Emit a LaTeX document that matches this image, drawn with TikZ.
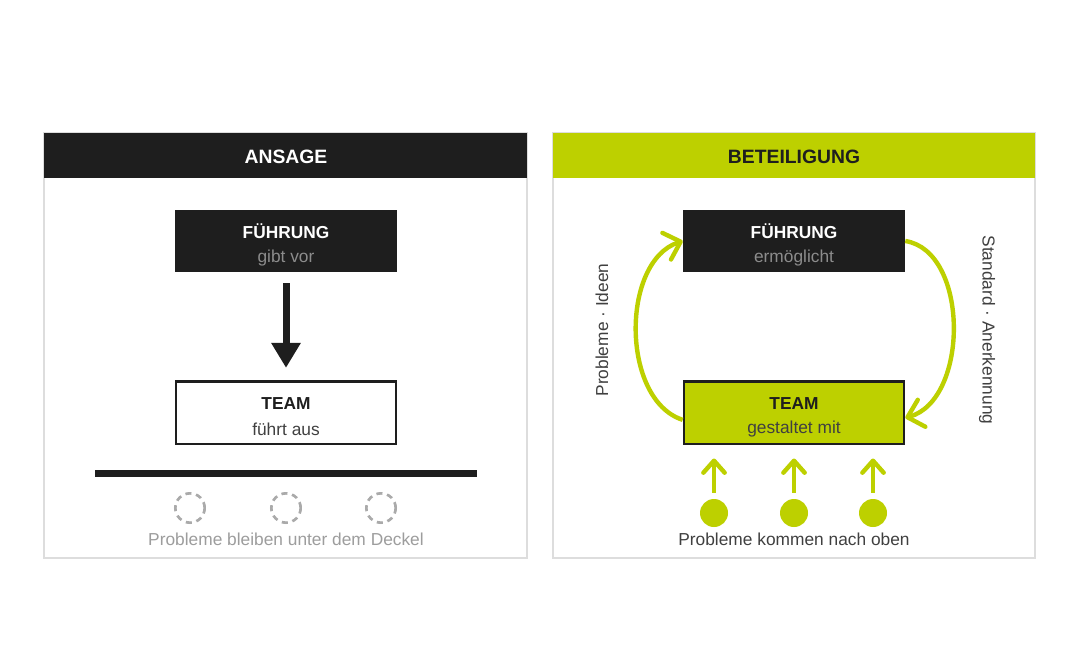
\documentclass[tikz,border=0pt]{standalone}
\usepackage{fontspec}
\setmainfont{Liberation Sans}
\usepackage{tikz}
\usetikzlibrary{positioning}
\usetikzlibrary{calc}
\usetikzlibrary{arrows.meta}

\definecolor{dark}{RGB}{30,30,30}
\definecolor{lime}{RGB}{189,208,0}
\definecolor{softgray}{RGB}{140,140,140}
\definecolor{framegray}{RGB}{221,221,221}
\definecolor{ringgray}{RGB}{170,170,170}

\tikzset{
  panel/.style={draw=framegray, line width=1pt},
  headtext/.style={font=\fontsize{14.5}{17}\selectfont\bfseries},
  darkbox/.style={fill=dark, minimum width=166.5pt, minimum height=46.5pt, inner sep=0pt},
  teambox/.style={draw=dark, line width=2pt, minimum width=165pt, minimum height=47pt, inner sep=0pt},
  boxtitle/.style={font=\fontsize{13}{16}\selectfont\bfseries, inner sep=0pt},
  boxsub/.style={font=\fontsize{13}{16}\selectfont, inner sep=0pt},
  plain/.style={font=\fontsize{13}{16}\selectfont},
  ring/.style={circle, draw=ringgray, line width=2pt, dash pattern={on 4.5pt off 3.6pt}, minimum size=22pt, inner sep=0pt},
  dot/.style={circle, fill=lime, minimum size=21pt, inner sep=0pt},
  bigarrow/.style={draw=dark, line width=5.25pt, -{Triangle[length=18.75pt,width=21pt]}, shorten <=8.25pt, shorten >=9pt},
  loopline/.style={draw=lime, line width=3.3pt, -{Straight Barb[length=11pt,width=21pt,round]}},
  uparrow/.style={draw=lime, line width=3.3pt, -{Straight Barb[length=9pt,width=16pt,round]}, shorten <=4.5pt, shorten >=10pt},
}

\begin{document}
\begin{tikzpicture}[x=0.75pt,y=0.75pt,yscale=-1,xscale=1]
\fill[white] (0,0) rectangle (1080,667);
\useasboundingbox (0,0) rectangle (1080,667); %whole canvas 1080 x 667

%Shape: Panel left
\draw[panel] (44,133) rectangle (527,558);
\fill[dark] (44,133) rectangle (527,178);
%Shape: Panel right
\draw[panel] (553,133) rectangle (1035,558);
\fill[lime] (553,133) rectangle (1035,178);

% Text Node
\node[headtext, text=white] (headL) at (286,157) {ANSAGE};
% Text Node
\node[headtext, text=dark] (headR) at (794,157) {BETEILIGUNG};

%Shape: Boxes left
\node[darkbox] (fuehrungL) at (286,241) {};
\node[boxtitle, text=white] (fuehrungLtitle) at ([yshift=-7.5pt]fuehrungL.center) {FÜHRUNG};
\node[boxsub, text=softgray] (fuehrungLsub) at ([yshift=12.5pt]fuehrungL.center) {gibt vor};
\node[teambox, fill=white] (teamL) at (286,412.5) {};
\node[boxtitle, text=dark] (teamLtitle) at ([yshift=-7pt]teamL.center) {TEAM};
\node[boxsub, text=dark!85] (teamLsub) at ([yshift=12.3pt]teamL.center) {führt aus};
%Straight Lines
\draw[bigarrow] (fuehrungL.south) -- (teamL.north);
%Shape: Lid
\fill[dark] (95,470) rectangle (477,477);
%Shape: Circle
\node[ring] (ring1) at (190,508) {};
\node[ring] (ring2) at (286,508) {};
\node[ring] (ring3) at (381,508) {};
% Text Node
\node[plain, text=softgray!85] (lidtext) at (286,539) {Probleme bleiben unter dem Deckel};

%Shape: Boxes right
\node[darkbox] (fuehrungR) at (794,241) {};
\node[boxtitle, text=white] (fuehrungRtitle) at ([yshift=-7.5pt]fuehrungR.center) {FÜHRUNG};
\node[boxsub, text=softgray] (fuehrungRsub) at ([yshift=12.5pt]fuehrungR.center) {ermöglicht};
\node[teambox, fill=lime] (teamR) at (794,412.5) {};
\node[boxtitle, text=dark] (teamRtitle) at ([yshift=-7pt]teamR.center) {TEAM};
\node[boxsub, text=dark!85] (teamRsub) at ([yshift=12.3pt]teamR.center) {gestaltet mit};
%Curve Lines
\draw[loopline] ([yshift=5.5pt]teamR.west) .. controls ($([yshift=5.5pt]teamR.west)+(-62,-20)$) and ($(fuehrungR.west)+(-62,20)$) .. (fuehrungR.west);
%Curve Lines
\draw[loopline] (fuehrungR.east) .. controls ($(fuehrungR.east)+(64,10)$) and ($([yshift=4pt]teamR.east)+(64,-18)$) .. ([yshift=4pt]teamR.east);
% Text Node
\node[plain, text=dark!85, rotate=90] (upward) at (602,330) {Probleme · Ideen};
% Text Node
\node[plain, text=dark!85, rotate=-90] (downward) at (987,330) {Standard · Anerkennung};
%Shape: Circle
\node[dot] (dot1) at (714,513) {};
\node[dot] (dot2) at (794,513) {};
\node[dot] (dot3) at (873,513) {};
%Straight Lines
\foreach \d in {dot1,dot2,dot3}
  \draw[uparrow] (\d.north) -- (\d.north |- teamR.south);
% Text Node
\node[plain, text=dark!85] (risetext) at (794,539) {Probleme kommen nach oben};

\end{tikzpicture}
\end{document}
